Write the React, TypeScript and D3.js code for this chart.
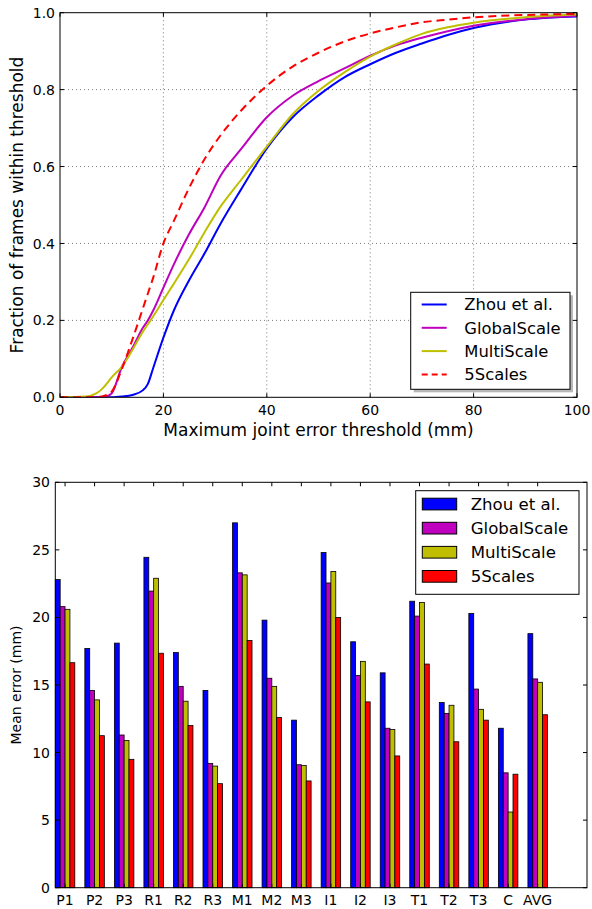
import React from "react";
import * as d3 from "d3";

// ---- top chart: fraction of frames within threshold ----
const thresholds = [0, 5, 7, 8, 9, 10, 12, 14, 16, 17, 18, 20, 22, 25, 28, 31, 35, 40, 45, 50, 55, 60, 65, 70, 75, 80, 90, 100];
const zhouCurve = [0, 0, 0, 0, 0, 0, 0.002, 0.006, 0.018, 0.035, 0.075, 0.155, 0.225, 0.305, 0.375, 0.45, 0.54, 0.647, 0.728, 0.785, 0.832, 0.866, 0.896, 0.92, 0.942, 0.96, 0.982, 0.99];
const globalCurve = [0, 0, 0, 0, 0.002, 0.01, 0.08, 0.128, 0.18, 0.2, 0.225, 0.285, 0.345, 0.425, 0.495, 0.575, 0.645, 0.728, 0.784, 0.822, 0.855, 0.888, 0.915, 0.935, 0.952, 0.966, 0.983, 0.992];
const multiCurve = [0, 0.002, 0.01, 0.02, 0.035, 0.052, 0.08, 0.123, 0.17, 0.19, 0.21, 0.253, 0.295, 0.36, 0.43, 0.495, 0.565, 0.652, 0.736, 0.797, 0.845, 0.886, 0.918, 0.945, 0.962, 0.974, 0.988, 0.995];
const fiveCurve = [0, 0, 0, 0.002, 0.006, 0.015, 0.075, 0.15, 0.23, 0.27, 0.31, 0.4, 0.458, 0.545, 0.62, 0.68, 0.745, 0.81, 0.86, 0.896, 0.925, 0.946, 0.962, 0.975, 0.982, 0.988, 0.994, 0.997];
const xTicksTop = [0, 20, 40, 60, 80, 100];
const yTicksTop = [0, 0.2, 0.4, 0.6, 0.8, 1.0];

// ---- bottom chart: mean error per action ----
const actions = ["P1", "P2", "P3", "R1", "R2", "R3", "M1", "M2", "M3", "I1", "I2", "I3", "T1", "T2", "T3", "C", "AVG"];
const zhouErr = [22.8, 17.7, 18.1, 24.45, 17.4, 14.6, 27.0, 19.8, 12.4, 24.8, 18.2, 15.9, 21.2, 13.7, 20.3, 11.8, 18.8];
const globalErr = [20.8, 14.6, 11.3, 21.95, 14.9, 9.2, 23.3, 15.5, 9.1, 22.55, 15.7, 11.8, 20.1, 12.9, 14.7, 8.5, 15.45];
const multiErr = [20.6, 13.9, 10.9, 22.9, 13.8, 9.0, 23.15, 14.9, 9.05, 23.4, 16.75, 11.7, 21.1, 13.5, 13.2, 5.6, 15.2];
const fiveErr = [16.65, 11.25, 9.5, 17.35, 12.0, 7.7, 18.3, 12.6, 7.9, 20.0, 13.75, 9.75, 16.55, 10.8, 12.4, 8.4, 12.8];
const yTicksBottom = [0, 5, 10, 15, 20, 25, 30];

const names = ["Zhou et al.", "GlobalScale", "MultiScale", "5Scales"];
const colors = ["#0000ff", "#bf00bf", "#bfbf00", "#ff0000"];

const FONT = "DejaVu Sans, sans-serif";

const App = () => {
  // top
  const x = d3.scaleLinear().domain([0, 100]).range([60, 577]);
  const y = d3.scaleLinear().domain([0, 1]).range([397.3, 12.7]);
  const curves = [zhouCurve, globalCurve, multiCurve, fiveCurve];
  const line = d3
    .line<number>()
    .x((d, i) => x(thresholds[i]))
    .y((d) => y(d))
    .curve(d3.curveMonotoneX);

  // bottom
  const bx = d3.scaleLinear().domain([0, 18]).range([55.3, 587]);
  const by = d3.scaleLinear().domain([0, 30]).range([887.7, 482.3]);
  const barW = 0.165;
  const errs = [zhouErr, globalErr, multiErr, fiveErr];

  const [x0, x1] = x.range();
  const [y0, y1] = y.range();
  const [bx0, bx1] = bx.range();
  const [by0, by1] = by.range();

  return (
    <svg width={592} height={909} style={{ position: "absolute", left: 0, top: 0, background: "#fff" }} fontFamily={FONT}>
      <defs>
        <clipPath id="topClip">
          <rect x={x0} y={y1 - 1} width={x1 - x0} height={y0 - y1 + 1} />
        </clipPath>
      </defs>

      {/* grid */}
      <g stroke="#444" strokeWidth={0.7} strokeDasharray="1,3">
        {xTicksTop.slice(1, -1).map((t) => (
          <line key={"gx" + t} x1={x(t)} x2={x(t)} y1={y0} y2={y1} />
        ))}
        {yTicksTop.slice(1, -1).map((t) => (
          <line key={"gy" + t} x1={x0} x2={x1} y1={y(t)} y2={y(t)} />
        ))}
      </g>

      {/* curves */}
      <g clipPath="url(#topClip)" fill="none" strokeWidth={2}>
        {curves.map((c, i) => (
          <path key={i} d={line(c) || ""} stroke={colors[i]} strokeDasharray={i === 3 ? "8,5" : undefined} />
        ))}
      </g>

      {/* frame and ticks */}
      <rect x={x0} y={y1} width={x1 - x0} height={y0 - y1} fill="none" stroke="#000" strokeWidth={1} />
      <g stroke="#000" strokeWidth={1}>
        {xTicksTop.map((t) => (
          <g key={"tx" + t}>
            <line x1={x(t)} x2={x(t)} y1={y0} y2={y0 - 4} />
            <line x1={x(t)} x2={x(t)} y1={y1} y2={y1 + 4} />
          </g>
        ))}
        {yTicksTop.map((t) => (
          <g key={"ty" + t}>
            <line x1={x0} x2={x0 + 4} y1={y(t)} y2={y(t)} />
            <line x1={x1} x2={x1 - 4} y1={y(t)} y2={y(t)} />
          </g>
        ))}
      </g>
      <g fontSize={14} fill="#000">
        {xTicksTop.map((t) => (
          <text key={"lx" + t} x={x(t)} y={414.5} textAnchor="middle">
            {t}
          </text>
        ))}
        {yTicksTop.map((t) => (
          <text key={"ly" + t} x={55} y={y(t)} dy="0.36em" textAnchor="end">
            {t.toFixed(1)}
          </text>
        ))}
      </g>
      <text x={(x0 + x1) / 2} y={436} fontSize={17} textAnchor="middle">
        Maximum joint error threshold (mm)
      </text>
      <text transform={`translate(23,${(y0 + y1) / 2}) rotate(-90)`} fontSize={17} textAnchor="middle">
        Fraction of frames within threshold
      </text>

      {/* top legend */}
      <rect x={413.7} y={295.3} width={159.3} height={97} fill="#888" opacity={0.6} />
      <rect x={410.7} y={292.3} width={159.3} height={97} fill="#fff" stroke="#000" strokeWidth={1} />
      {names.map((n, i) => (
        <g key={"tl" + i}>
          <line x1={421.7} x2={446.7} y1={304.5 + i * 23.3} y2={304.5 + i * 23.3} stroke={colors[i]} strokeWidth={2} strokeDasharray={i === 3 ? "6,4" : undefined} />
          <text x={464.3} y={304.5 + i * 23.3} dy="0.36em" fontSize={16.4}>
            {n}
          </text>
        </g>
      ))}

      {/* bottom bars */}
      <g stroke="#000" strokeWidth={0.8}>
        {errs.map((arr, s) =>
          arr.map((v, i) => (
            <rect
              key={`b${s}-${i}`}
              x={bx(i + s * barW)}
              y={by(v)}
              width={bx(barW) - bx(0)}
              height={by(0) - by(v)}
              fill={colors[s]}
            />
          ))
        )}
      </g>
      <rect x={bx0} y={by1} width={bx1 - bx0} height={by0 - by1} fill="none" stroke="#000" strokeWidth={1} />
      <g stroke="#000" strokeWidth={1}>
        {actions.map((a, i) => (
          <g key={"bt" + i}>
            <line x1={bx(i + 2 * barW)} x2={bx(i + 2 * barW)} y1={by1} y2={by1 + 4} />
            <line x1={bx(i + 2 * barW)} x2={bx(i + 2 * barW)} y1={by0} y2={by0 - 4} />
          </g>
        ))}
        {yTicksBottom.map((t) => (
          <g key={"bty" + t}>
            <line x1={bx0} x2={bx0 + 4} y1={by(t)} y2={by(t)} />
            <line x1={bx1} x2={bx1 - 4} y1={by(t)} y2={by(t)} />
          </g>
        ))}
      </g>
      <g fontSize={14} fill="#000">
        {actions.map((a, i) => (
          <text key={"bl" + i} x={bx(i + 2 * barW)} y={904.5} textAnchor="middle">
            {a}
          </text>
        ))}
        {yTicksBottom.map((t) => (
          <text key={"bly" + t} x={50} y={by(t)} dy="0.36em" textAnchor="end">
            {t}
          </text>
        ))}
      </g>
      <text transform={`translate(21,${(by0 + by1) / 2}) rotate(-90)`} fontSize={14} textAnchor="middle">
        Mean error (mm)
      </text>

      {/* bottom legend */}
      <rect x={415.7} y={490.7} width={163.3} height={103.6} fill="#fff" stroke="#000" strokeWidth={1} />
      {names.map((n, i) => (
        <g key={"bleg" + i}>
          <rect x={422.3} y={498.2 + i * 24.1} width={34.4} height={11.7} fill={colors[i]} stroke="#000" strokeWidth={1} />
          <text x={470.7} y={504 + i * 24.1} dy="0.36em" fontSize={16.6}>
            {n}
          </text>
        </g>
      ))}
    </svg>
  );
};

export default App;
